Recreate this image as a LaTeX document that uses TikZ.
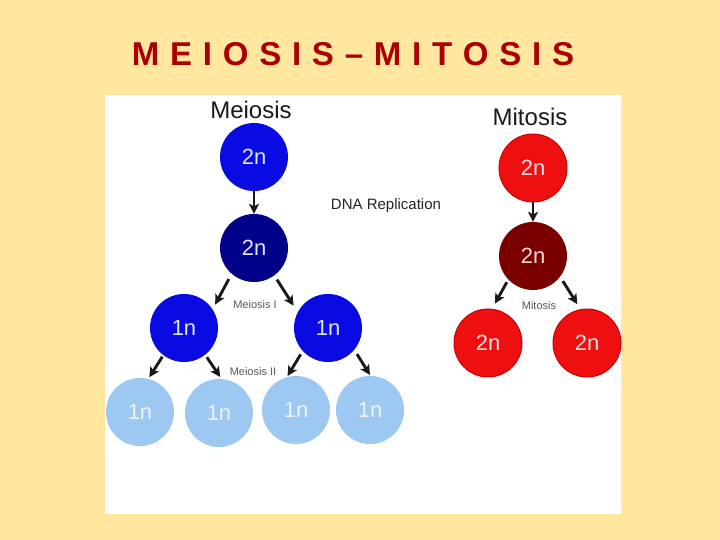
\documentclass[tikz,border=0pt]{standalone}
\usepackage{fontspec}
\setmainfont{Liberation Sans}
\usetikzlibrary{arrows.meta}
\definecolor{bgyellow}{HTML}{FFE7A0}
\definecolor{titlered}{HTML}{AA0000}
\definecolor{cblue}{HTML}{0A0AE2}
\definecolor{cnavy}{HTML}{000088}
\definecolor{clight}{HTML}{9CC8F2}
\definecolor{cred}{HTML}{EE1010}
\definecolor{credrim}{HTML}{CC0000}
\definecolor{cdarkred}{HTML}{7A0000}
\tikzset{
  cell/.style={circle,minimum size=68pt,inner sep=0pt,font=\fontsize{22}{22}\selectfont},
  bluecell/.style={cell,fill=cblue,text=blue!10!white},
  navycell/.style={cell,fill=cnavy,text=blue!10!white},
  lightcell/.style={cell,fill=clight,text=blue!6!white},
  redcell/.style={cell,fill=cred,draw=credrim,line width=1pt,text=red!12!white},
  darkredcell/.style={cell,fill=cdarkred,text=red!15!white},
  conn/.style={-{Stealth[length=10pt,width=10pt,inset=2.5pt]},line width=2.9pt,black!90},
  heading/.style={font=\fontsize{24}{24}\selectfont,text=black!90},
  small/.style={font=\fontsize{11}{11}\selectfont,text=black!65},
}
\begin{document}
\begin{tikzpicture}[x=1pt,y=-1pt]
\useasboundingbox (0,0) rectangle (720,540);
\fill[bgyellow] (0,0) rectangle (720,540);
\fill[white] (105,95) rectangle (621,514);
\node[text=titlered,font=\bfseries\fontsize{33}{33}\selectfont] (title) at (353,54) {\spaceskip 10.75pt\relax M E I O S I S – M I T O S I S};
% meiosis
\node[heading] (meiosis) at (251,110) {Meiosis};
\node[bluecell] (m1) at (254,157) {2n};
\node[navycell] (m2) at (254,248) {2n};
\node[bluecell] (m3) at (184,328) {1n};
\node[bluecell] (m4) at (328,328) {1n};
\node[lightcell] (m5) at (140,412) {1n};
\node[lightcell] (m6) at (219,413) {1n};
\node[lightcell] (m7) at (296,410) {1n};
\node[lightcell] (m8) at (370,410) {1n};
\node[font=\fontsize{15}{15}\selectfont,text=black!85] (dna) at (386,206) {DNA Replication};
\node[small] (mI) at (255,305) {Meiosis I};
\node[small] (mII) at (253,372) {Meiosis II};
\draw[conn] (m1) -- (m2);
\draw[conn] ([shift={(231:40pt)}]m2.center) -- ([shift={(37:39pt)}]m3.center);
\draw[conn] ([shift={(306:39pt)}]m2.center) -- ([shift={(147:41pt)}]m4.center);
\draw[conn] ([shift={(233:36pt)}]m3.center) -- ([shift={(75:36pt)}]m5.center);
\draw[conn] ([shift={(308:37pt)}]m3.center) -- ([shift={(88:36pt)}]m6.center);
\draw[conn] ([shift={(224:38pt)}]m4.center) -- ([shift={(104:35pt)}]m7.center);
\draw[conn] ([shift={(318:39pt)}]m4.center) -- ([shift={(90:35pt)}]m8.center);
% mitosis
\node[heading] (mitosis) at (530,117) {Mitosis};
\node[redcell] (r1) at (533,168) {2n};
\node[darkredcell] (r2) at (533,256) {2n};
\node[redcell] (r3) at (488,343) {2n};
\node[redcell] (r4) at (587,343) {2n};
\node[small] (mit) at (539,306) {Mitosis};
\draw[conn] (r1) -- (r2);
\draw[conn] ([shift={(225:37pt)}]r2.center) -- ([shift={(80:40pt)}]r3.center);
\draw[conn] ([shift={(320:39pt)}]r2.center) -- ([shift={(104:40pt)}]r4.center);
\end{tikzpicture}
\end{document}
